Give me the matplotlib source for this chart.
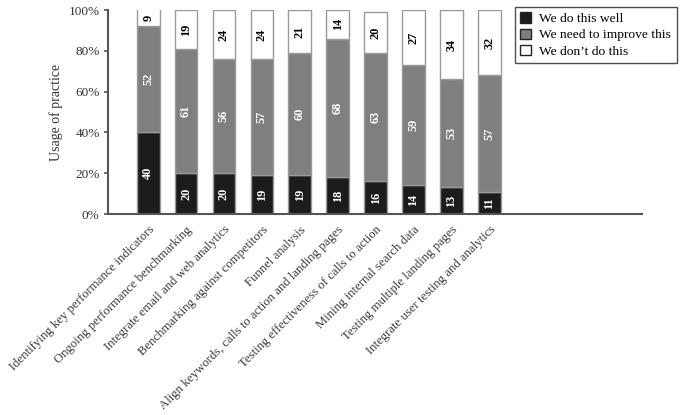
import matplotlib
matplotlib.use("Agg")
import matplotlib.pyplot as plt
import matplotlib.transforms as mtransforms
import numpy as np

categories = [
    "Identifying key performance indicators",
    "Ongoing performance benchmarking",
    "Integrate email and web analytics",
    "Benchmarking against competitors",
    "Funnel analysis",
    "Align keywords, calls to action and landing pages",
    "Testing effectiveness of calls to action",
    "Mining internal search data",
    "Testing multiple landing pages",
    "Integrate user testing and analytics",
]
do_well = [40, 20, 20, 19, 19, 18, 16, 14, 13, 11]
need_improve = [52, 61, 56, 57, 60, 68, 63, 59, 53, 57]
dont_do = [9, 19, 24, 24, 21, 14, 20, 27, 34, 32]
series_names = ["We do this well", "We need to improve this", "We don\u2019t do this"]
yticks = [0, 20, 40, 60, 80, 100]
ytick_labels = ["0%", "20%", "40%", "60%", "80%", "100%"]

plt.rcParams['font.family'] = ['Liberation Serif', 'DejaVu Serif']

fig = plt.figure(figsize=(6.8, 4.15), dpi=100)
ax = fig.add_axes([108/680, 1-214/415, (642-108)/680, (214-10)/415])

x = np.arange(len(categories))
w = 0.6
edge = "#9a9a9a"
colors = ["#1c1c1c", "#7f7f7f", "#ffffff"]
text_colors = ["white", "white", "black"]
series = [do_well, need_improve, dont_do]
bottom = np.zeros(len(categories))
handles = []
for vals, c, tc, name in zip(series, colors, text_colors, series_names):
    vals = np.array(vals, dtype=float)
    h = ax.bar(x, vals, w, bottom=bottom, color=c, edgecolor=edge, linewidth=1.0, label=name, zorder=2)
    handles.append(h)
    for xi, b, v in zip(x, bottom, vals):
        top = min(b + v, 100)
        ax.text(xi, (b + top) / 2, f"{int(v)}", rotation=90, ha="center", va="center",
                color=tc, fontsize=8.8, fontweight="bold", zorder=3)
    bottom += vals

ax.set_ylim(0, 100)
ax.set_xlim(-1.06, 13.03)
ax.set_yticks(yticks)
ax.set_yticklabels(ytick_labels, fontsize=9.5, color="#333333")
ax.set_xticks(x)
ax.set_xticklabels(categories, rotation=45, ha="right", va="top", rotation_mode="anchor",
                   fontsize=9.2, color="#3a3a3a")
offset = mtransforms.ScaledTranslation(-0.07, 0, fig.dpi_scale_trans)
for lbl in ax.get_xticklabels():
    lbl.set_transform(lbl.get_transform() + offset)
ax.tick_params(axis="x", length=0, pad=7)
ax.tick_params(axis="y", length=3, width=1.2, color="#555555", pad=3)
for s in ["top", "right"]:
    ax.spines[s].set_visible(False)
for s in ["left", "bottom"]:
    ax.spines[s].set_color("#555555")
    ax.spines[s].set_linewidth(1.5)
ax.set_ylabel("Usage of practice", fontsize=10, color="#333333", labelpad=4)

leg = fig.legend(handles=handles, labels=series_names, loc="upper left",
                 bbox_to_anchor=(515/680, 1-7/415), fontsize=9.7, frameon=True,
                 fancybox=False, edgecolor="#222222", handlelength=0.8, handleheight=0.8,
                 handletextpad=0.6, borderpad=0.4, labelspacing=0.25, borderaxespad=0)
leg.get_frame().set_linewidth(1.0)
for p in leg.get_patches():
    p.set_edgecolor("#222222")

fig.savefig("out.png", dpi=100)
